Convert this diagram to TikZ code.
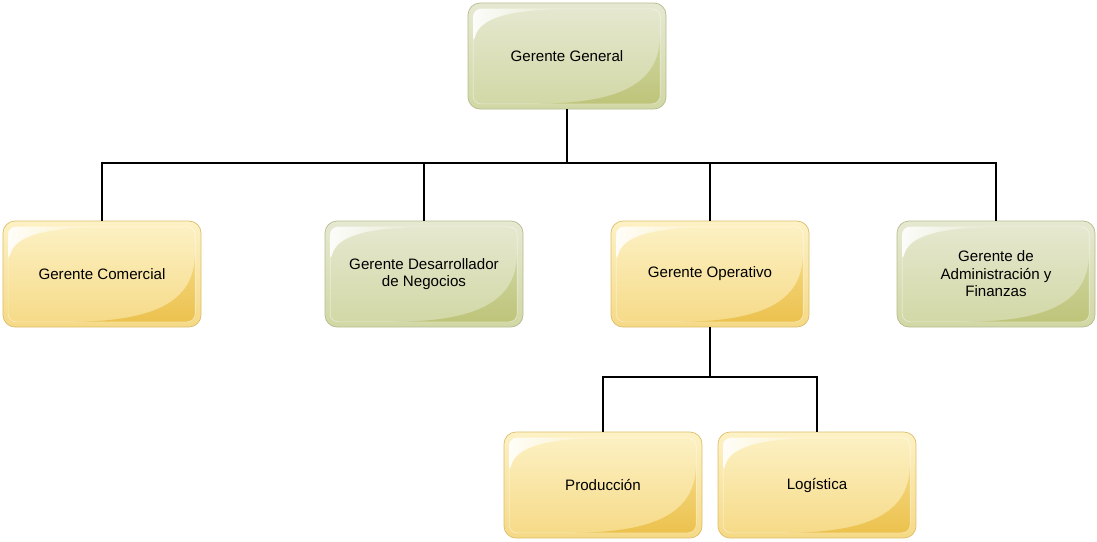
\documentclass[tikz,border=0pt]{standalone}
\usepackage{fontspec}
\setmainfont{Liberation Sans}
\usetikzlibrary{fadings}

\definecolor{goldtop}{HTML}{FDF2C6}
\definecolor{goldbot}{HTML}{F5D985}
\definecolor{golddark}{HTML}{ECC24E}
\definecolor{goldline}{HTML}{DDBD6A}
\definecolor{greentop}{HTML}{E6E9D1}
\definecolor{greenbot}{HTML}{D1D7A4}
\definecolor{greendark}{HTML}{BEC479}
\definecolor{greenline}{HTML}{B6BB8F}

\begin{document}
\begin{tikzpicture}[
    box/.style={rounded corners=0.24cm, minimum width=3.96cm, minimum height=2.12cm,
      inner sep=0pt, align=center, font=\fontsize{8.6}{10}\selectfont},
    goldbox/.style={box, draw=goldline, top color=goldtop, bottom color=goldbot},
    greenbox/.style={box, draw=greenline, top color=greentop, bottom color=greenbot},
    label/.style={font=\fontsize{8.6}{10}\selectfont, align=center},
    wire/.style={line width=0.9pt}
  ]
  \useasboundingbox (0,0) rectangle (21.94,-10.82);

  \node[greenbox] (gg) at (11.34,-1.12) {};
  \node[goldbox] (com) at (2.04,-5.48) {};
  \node[greenbox] (des) at (8.48,-5.48) {};
  \node[goldbox] (ope) at (14.2,-5.48) {};
  \node[greenbox] (adm) at (19.92,-5.48) {};
  \node[goldbox] (pro) at (12.06,-9.70) {};
  \node[goldbox] (log) at (16.34,-9.70) {};

  % gloss and swoosh on every box
  \foreach \n/\c in {gg/green, com/gold, des/green, ope/gold, adm/green, pro/gold, log/gold} {
    \begin{scope}[shift={(\n.south west)}]
      \shade[top color=\c bot, bottom color=\c dark, rounded corners=0.16cm]
        (1.3,0.11) .. controls (3.0,0.13) and (3.8,0.5) .. (3.85,1.55) -- (3.85,0.11) -- cycle;
      \fill[white, path fading=east, opacity=0.9, rounded corners=0.16cm]
        (0.11,1.3) .. controls (0.25,1.85) and (0.9,1.98) .. (2.0,2.01) -- (0.11,2.01) -- cycle;
      \draw[white, opacity=0.45, rounded corners=0.16cm] (0.11,0.11) rectangle (3.85,2.01);
    \end{scope}
  }

  \node[label] at (gg) {Gerente General};
  \node[label] at (com) {Gerente Comercial};
  \node[label] at (des) {Gerente Desarrollador\\de Negocios};
  \node[label] at (ope) {Gerente Operativo};
  \node[label] at (adm) {Gerente de\\Administración y\\Finanzas};
  \node[label] at (pro) {Producción};
  \node[label] at (log) {Logística};

  \coordinate (bus) at (0,-3.26);
  \coordinate (bus2) at (0,-7.54);

  \draw[wire] (gg.south) -- (gg.south |- bus);
  \draw[wire] (com.north) -- (com.north |- bus) -- (adm.north |- bus) -- (adm.north);
  \draw[wire] (des.north) -- (des.north |- bus);
  \draw[wire] (ope.north) -- (ope.north |- bus);
  \draw[wire] (ope.south) -- (ope.south |- bus2);
  \draw[wire] (pro.north) -- (pro.north |- bus2) -- (log.north |- bus2) -- (log.north);
\end{tikzpicture}
\end{document}
